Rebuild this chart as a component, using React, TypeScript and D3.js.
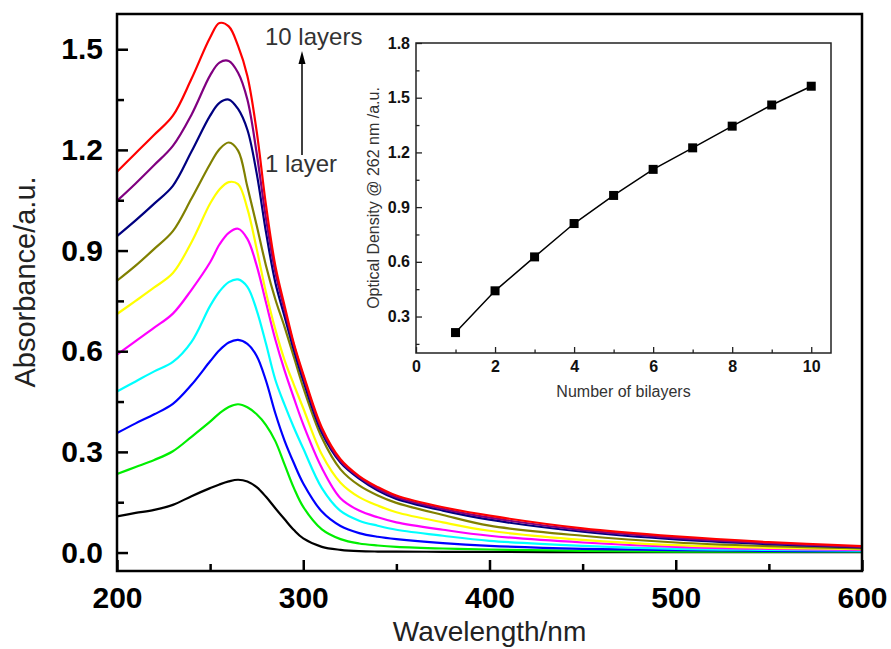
import React, { useEffect, useRef } from "react";
import * as d3 from "d3";

// wavelength grid (nm) the spectra were read at
const wavelengths = [200, 210, 220, 230, 240, 250, 255, 260, 265, 270, 275, 280, 285, 290, 295, 300, 310, 320, 330, 340, 350, 375, 400, 450, 500, 550, 600];

const layer1 = [0.108, 0.118, 0.127, 0.142, 0.168, 0.192, 0.203, 0.212, 0.217, 0.212, 0.195, 0.166, 0.132, 0.099, 0.067, 0.042, 0.017, 0.008, 0.004, 0.003, 0.003, 0.002, 0.002, 0.001, 0.001, 0.001, 0.001];
const layer2 = [0.234, 0.255, 0.276, 0.302, 0.345, 0.39, 0.415, 0.434, 0.442, 0.433, 0.412, 0.38, 0.332, 0.262, 0.192, 0.136, 0.069, 0.04, 0.027, 0.021, 0.017, 0.012, 0.009, 0.005, 0.003, 0.003, 0.003];
const layer3 = [0.356, 0.385, 0.412, 0.443, 0.5, 0.57, 0.603, 0.626, 0.634, 0.622, 0.586, 0.512, 0.415, 0.333, 0.266, 0.206, 0.122, 0.079, 0.058, 0.047, 0.04, 0.028, 0.02, 0.011, 0.007, 0.005, 0.004];
const layer4 = [0.48, 0.51, 0.54, 0.568, 0.628, 0.735, 0.778, 0.806, 0.814, 0.792, 0.722, 0.622, 0.515, 0.44, 0.372, 0.31, 0.192, 0.124, 0.095, 0.08, 0.068, 0.05, 0.035, 0.02, 0.011, 0.008, 0.006];
const layer5 = [0.59, 0.63, 0.67, 0.712, 0.783, 0.865, 0.918, 0.953, 0.965, 0.935, 0.855, 0.745, 0.635, 0.542, 0.46, 0.382, 0.252, 0.162, 0.125, 0.105, 0.09, 0.068, 0.05, 0.03, 0.017, 0.011, 0.008];
const layer6 = [0.711, 0.75, 0.79, 0.833, 0.925, 1.04, 1.082, 1.104, 1.098, 1.025, 0.905, 0.775, 0.665, 0.573, 0.5, 0.43, 0.292, 0.208, 0.165, 0.14, 0.12, 0.09, 0.065, 0.038, 0.022, 0.014, 0.01];
const layer7 = [0.81, 0.855, 0.905, 0.958, 1.055, 1.158, 1.202, 1.222, 1.198, 1.09, 0.975, 0.855, 0.755, 0.672, 0.582, 0.492, 0.342, 0.248, 0.2, 0.17, 0.148, 0.112, 0.08, 0.05, 0.03, 0.019, 0.012];
const layer8 = [0.943, 0.99, 1.04, 1.093, 1.195, 1.302, 1.34, 1.35, 1.322, 1.26, 1.13, 0.955, 0.805, 0.703, 0.602, 0.512, 0.357, 0.268, 0.22, 0.185, 0.16, 0.125, 0.098, 0.062, 0.039, 0.025, 0.015];
const layer9 = [1.048, 1.1, 1.155, 1.212, 1.305, 1.422, 1.46, 1.465, 1.43, 1.35, 1.19, 0.995, 0.835, 0.722, 0.617, 0.526, 0.366, 0.273, 0.225, 0.19, 0.165, 0.13, 0.104, 0.067, 0.044, 0.028, 0.017];
const layer10 = [1.135, 1.19, 1.245, 1.302, 1.412, 1.535, 1.578, 1.568, 1.51, 1.42, 1.255, 1.035, 0.855, 0.735, 0.622, 0.532, 0.372, 0.278, 0.228, 0.195, 0.17, 0.135, 0.11, 0.072, 0.048, 0.031, 0.019];

const layerColors = ["#000000", "#00ee00", "#0000ff", "#00ffff", "#ff00ff", "#ffff00", "#808000", "#000080", "#800080", "#ff0000"];

const mainXTicks = [200, 300, 400, 500, 600];
const mainXMinor = [250, 350, 450, 550];
const mainYTicks = [0, 0.3, 0.6, 0.9, 1.2, 1.5];
const mainYMinor = [0.15, 0.45, 0.75, 1.05, 1.35];

// inset: optical density at 262 nm vs number of bilayers
const bilayers = [1, 2, 3, 4, 5, 6, 7, 8, 9, 10];
const opticalDensity = [0.212, 0.441, 0.627, 0.81, 0.964, 1.107, 1.225, 1.344, 1.46, 1.563];

const insetXTicks = [0, 2, 4, 6, 8, 10];
const insetXMinor = [1, 3, 5, 7, 9];
const insetYTicks = [0.3, 0.6, 0.9, 1.2, 1.5, 1.8];
const insetYMinor = [0.15, 0.45, 0.75, 1.05, 1.35, 1.65];

const App = () => {
  const ref = useRef<SVGSVGElement>(null);

  useEffect(() => {
    const svg = d3.select(ref.current);
    svg.selectAll("*").remove();
    const font = "'Liberation Sans', Arial, Helvetica, sans-serif";

    const x = d3.scaleLinear().domain([200, 600]).range([117, 862]);
    const y = d3.scaleLinear().domain([-0.055, 1.605]).range([571, 14]);

    // spectra
    const spectra = [layer1, layer2, layer3, layer4, layer5, layer6, layer7, layer8, layer9, layer10];
    const line = d3
      .line<number>()
      .x((d, i) => x(wavelengths[i]))
      .y((d) => y(d))
      .curve(d3.curveCatmullRom.alpha(0.5));

    svg
      .append("g")
      .selectAll("path")
      .data(spectra)
      .join("path")
      .attr("d", (d) => line(d))
      .attr("fill", "none")
      .attr("stroke", (d, i) => layerColors[i])
      .attr("stroke-width", 2.2);

    // main axes
    const xAxis = svg
      .append("g")
      .attr("transform", "translate(0,571)")
      .call(
        d3.axisBottom(x).tickValues(mainXTicks).tickSizeInner(-11).tickSizeOuter(0).tickPadding(16).tickFormat(d3.format("d"))
      );
    svg
      .append("g")
      .attr("transform", "translate(0,571)")
      .call(d3.axisBottom(x).tickValues(mainXMinor).tickSizeInner(-7).tickSizeOuter(0).tickFormat(() => ""));

    const yAxis = svg
      .append("g")
      .attr("transform", "translate(117,0)")
      .call(
        d3.axisLeft(y).tickValues(mainYTicks).tickSizeInner(-11).tickSizeOuter(0).tickPadding(14).tickFormat(d3.format(".1f"))
      );
    svg
      .append("g")
      .attr("transform", "translate(117,0)")
      .call(d3.axisLeft(y).tickValues(mainYMinor).tickSizeInner(-7).tickSizeOuter(0).tickFormat(() => ""));

    svg.selectAll(".domain").remove();
    svg.selectAll(".tick line").attr("stroke", "#000").attr("stroke-width", 2.5);
    [xAxis, yAxis].forEach((g) =>
      g
        .selectAll("text")
        .attr("fill", "#000")
        .style("font-family", font)
        .style("font-size", "30px")
        .style("font-weight", "700")
    );

    svg
      .append("rect")
      .attr("x", 117)
      .attr("y", 14)
      .attr("width", 862 - 117)
      .attr("height", 571 - 14)
      .attr("fill", "none")
      .attr("stroke", "#000")
      .attr("stroke-width", 2.5);

    // axis titles
    svg
      .append("text")
      .attr("x", (117 + 862) / 2)
      .attr("y", 641)
      .attr("text-anchor", "middle")
      .attr("fill", "#222")
      .style("font-family", font)
      .style("font-size", "28px")
      .text("Wavelength/nm");

    svg
      .append("text")
      .attr("transform", "translate(35,282) rotate(-90)")
      .attr("text-anchor", "middle")
      .attr("fill", "#222")
      .style("font-family", font)
      .style("font-size", "29px")
      .text("Absorbance/a.u.");

    // layer annotation
    svg
      .append("text")
      .attr("x", 265)
      .attr("y", 45)
      .attr("fill", "#333")
      .style("font-family", font)
      .style("font-size", "24px")
      .text("10 layers");
    svg
      .append("text")
      .attr("x", 265)
      .attr("y", 172)
      .attr("fill", "#333")
      .style("font-family", font)
      .style("font-size", "24px")
      .text("1 layer");
    svg
      .append("line")
      .attr("x1", 302)
      .attr("x2", 302)
      .attr("y1", 155)
      .attr("y2", 62)
      .attr("stroke", "#000")
      .attr("stroke-width", 1.5);
    svg
      .append("path")
      .attr("d", "M302,51 L298.5,64 L305.5,64 Z")
      .attr("fill", "#000");

    // inset
    const xi = d3.scaleLinear().domain([0, 10.5]).range([416, 831]);
    const yi = d3.scaleLinear().domain([0.1, 1.8]).range([353, 43]);
    const inset = svg.append("g");

    inset
      .append("rect")
      .attr("x", 416)
      .attr("y", 43)
      .attr("width", 831 - 416)
      .attr("height", 353 - 43)
      .attr("fill", "#fff");

    const ixAxis = inset
      .append("g")
      .attr("transform", "translate(0,353)")
      .call(d3.axisBottom(xi).tickValues(insetXTicks).tickSizeInner(-6).tickSizeOuter(0).tickPadding(8));
    inset
      .append("g")
      .attr("transform", "translate(0,353)")
      .call(d3.axisBottom(xi).tickValues(insetXMinor).tickSizeInner(-3.5).tickSizeOuter(0).tickFormat(() => ""));
    const iyAxis = inset
      .append("g")
      .attr("transform", "translate(416,0)")
      .call(
        d3.axisLeft(yi).tickValues(insetYTicks).tickSizeInner(-6).tickSizeOuter(0).tickPadding(6).tickFormat(d3.format(".1f"))
      );
    inset
      .append("g")
      .attr("transform", "translate(416,0)")
      .call(d3.axisLeft(yi).tickValues(insetYMinor).tickSizeInner(-3.5).tickSizeOuter(0).tickFormat(() => ""));

    inset.selectAll(".domain").remove();
    inset.selectAll(".tick line").attr("stroke", "#222").attr("stroke-width", 1.3);
    [ixAxis, iyAxis].forEach((g) =>
      g
        .selectAll("text")
        .attr("fill", "#111")
        .style("font-family", font)
        .style("font-size", "16px")
        .style("font-weight", "700")
    );

    inset
      .append("rect")
      .attr("x", 416)
      .attr("y", 43)
      .attr("width", 831 - 416)
      .attr("height", 353 - 43)
      .attr("fill", "none")
      .attr("stroke", "#222")
      .attr("stroke-width", 1.5);

    const odLine = d3
      .line<number>()
      .x((d, i) => xi(bilayers[i]))
      .y((d) => yi(d));
    inset
      .append("path")
      .attr("d", odLine(opticalDensity))
      .attr("fill", "none")
      .attr("stroke", "#000")
      .attr("stroke-width", 1.5);
    inset
      .selectAll("rect.marker")
      .data(opticalDensity)
      .join("rect")
      .attr("class", "marker")
      .attr("x", (d, i) => xi(bilayers[i]) - 4.5)
      .attr("y", (d) => yi(d) - 4.5)
      .attr("width", 9)
      .attr("height", 9)
      .attr("fill", "#000");

    inset
      .append("text")
      .attr("x", (416 + 831) / 2)
      .attr("y", 397)
      .attr("text-anchor", "middle")
      .attr("fill", "#333")
      .style("font-family", font)
      .style("font-size", "16px")
      .text("Number of bilayers");
    inset
      .append("text")
      .attr("transform", "translate(379,198) rotate(-90)")
      .attr("text-anchor", "middle")
      .attr("fill", "#333")
      .style("font-family", font)
      .style("font-size", "16px")
      .text("Optical Density @ 262 nm /a.u.");
  }, []);

  return (
    <svg
      ref={ref}
      width={891}
      height={649}
      style={{ position: "absolute", left: 0, top: 0, background: "#fff" }}
    />
  );
};

export default App;
